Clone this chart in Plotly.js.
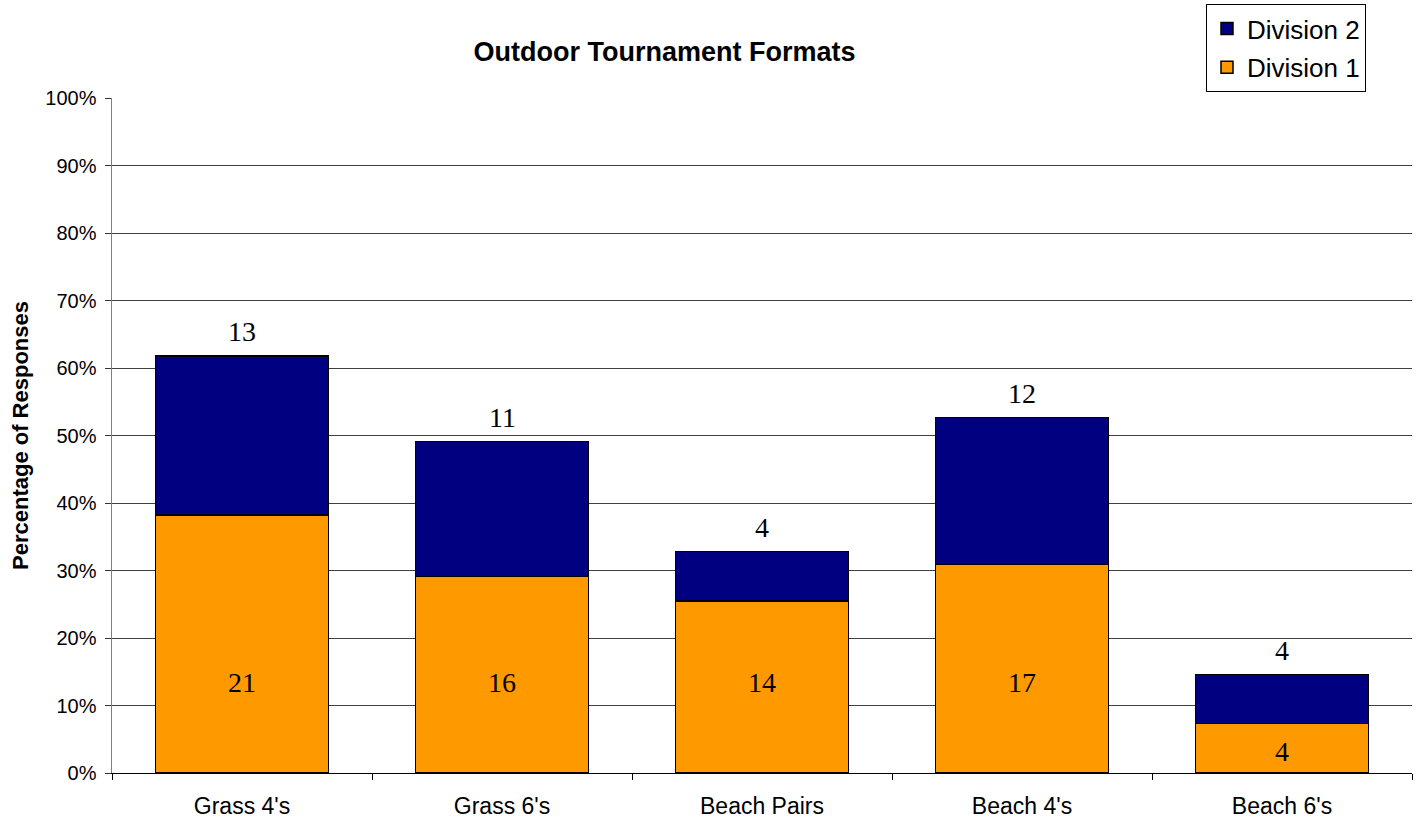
<!DOCTYPE html>
<html>
<head>
<meta charset="utf-8">
<script src="https://cdn.plot.ly/plotly-3.0.1.min.js"></script>
<style>html,body{margin:0;padding:0;background:#fff;}#chart{width:1417px;height:819px;}</style>
</head>
<body>
<div id="chart"></div>
<script>
// Data
var categories = ["Grass 4's", "Grass 6's", "Beach Pairs", "Beach 4's", "Beach 6's"];
var division1Pct = [38.2, 29.1, 25.5, 30.9, 7.3];   // % of responses
var division2Pct = [23.6, 20.0, 7.3, 21.8, 7.3];    // % of responses
var division1Count = [21, 16, 14, 17, 4];
var division2Count = [13, 11, 4, 12, 4];
var yTickVals = [0, 10, 20, 30, 40, 50, 60, 70, 80, 90, 100];
var yTickText = ['0%', '10%', '20%', '30%', '40%', '50%', '60%', '70%', '80%', '90%', '100%'];

var sans = 'Liberation Sans, Arial, Helvetica, sans-serif';
var serif = 'Liberation Serif, Times New Roman, serif';

var traces = [
  {
    type: 'bar', name: 'Division 1', x: categories, y: division1Pct,
    marker: {color: '#FF9900', line: {color: '#000000', width: 1.5}},
    legendgroup: 'd1', legendrank: 2, hoverinfo: 'skip'
  },
  {
    type: 'bar', name: 'Division 2', x: categories, y: division2Pct,
    marker: {color: '#000080', line: {color: '#000000', width: 1.5}},
    legendgroup: 'd2', legendrank: 1, hoverinfo: 'skip'
  }
];

var annotations = [];
categories.forEach(function (c, i) {
  // Division 1 label inside the lower segment
  annotations.push({
    x: c, y: Math.min(14, division1Pct[i] - 3.5), xref: 'x', yref: 'y',
    text: String(division1Count[i]), showarrow: false,
    yanchor: 'middle', yshift: -4,
    font: {family: serif, size: 28, color: '#000'}
  });
  // Division 2 label above the stack
  annotations.push({
    x: c, y: division1Pct[i] + division2Pct[i], xref: 'x', yref: 'y',
    text: String(division2Count[i]), showarrow: false,
    yanchor: 'middle', yshift: 24,
    font: {family: serif, size: 28, color: '#000'}
  });
});

var layout = {
  width: 1417, height: 819,
  paper_bgcolor: '#ffffff', plot_bgcolor: '#ffffff',
  margin: {l: 112, r: 5, t: 97, b: 46},
  barmode: 'stack',
  bargap: 0.335,
  showlegend: true,
  title: {
    text: '<b>Outdoor Tournament Formats</b>',
    font: {family: sans, size: 27, color: '#000'},
    xref: 'container', x: 0.469, xanchor: 'center',
    yref: 'container', y: 1 - 52 / 819, yanchor: 'middle'
  },
  legend: {
    x: (1206 - 112) / 1300, xanchor: 'left',
    y: (773 - 4) / 676, yanchor: 'top',
    bgcolor: '#ffffff', bordercolor: '#000000', borderwidth: 1,
    font: {family: sans, size: 26, color: '#000'},
    traceorder: 'grouped', tracegroupgap: 2,
    itemwidth: 30
  },
  xaxis: {
    type: 'category',
    showline: true, linecolor: '#000000', linewidth: 1,
    ticks: 'outside', tickson: 'boundaries', ticklen: 6, tickcolor: '#000000',
    ticklabelstandoff: 12,
    tickfont: {family: sans, size: 23, color: '#000'},
    showgrid: false, zeroline: false, fixedrange: true
  },
  yaxis: {
    range: [0, 100], tickmode: 'array', tickvals: yTickVals, ticktext: yTickText,
    showline: true, linecolor: '#808080', linewidth: 1.5,
    ticks: 'outside', ticklen: 6, tickcolor: '#333333',
    ticklabelstandoff: 4,
    tickfont: {family: sans, size: 20, color: '#000'},
    showgrid: true, gridcolor: '#404040', gridwidth: 1,
    zeroline: false, automargin: false, fixedrange: true,
    title: {
      text: '<b>Percentage of Responses</b>',
      font: {family: sans, size: 22, color: '#000'},
      standoff: 10
    }
  },
  annotations: annotations
};

Plotly.newPlot('chart', traces, layout, {displayModeBar: false, staticPlot: true});
</script>
</body>
</html>
